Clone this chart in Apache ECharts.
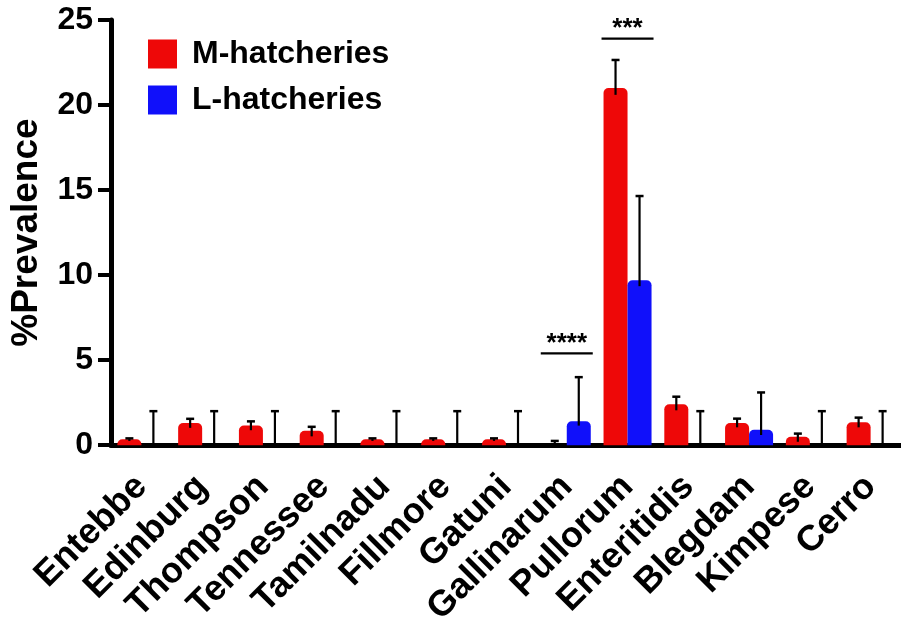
<!DOCTYPE html>
<html>
<head>
<meta charset="utf-8">
<script src="https://cdn.jsdelivr.net/npm/echarts@6/dist/echarts.min.js"></script>
<style>
html,body{margin:0;padding:0;background:#fff;}
#chart{width:901px;height:629px;}
</style>
</head>
<body>
<div id="chart"></div>
<script>
const categories = ['Entebbe','Edinburg','Thompson','Tennessee','Tamilnadu','Fillmore','Gatuni','Gallinarum','Pullorum','Enteritidis','Blegdam','Kimpese','Cerro'];
const mValues = [0.35, 1.3, 1.15, 0.85, 0.35, 0.35, 0.35, 0, 21.0, 2.4, 1.3, 0.5, 1.35];
const mUpper  = [0.4, 1.55, 1.4, 1.08, 0.4, 0.4, 0.4, 0.25, 22.65, 2.85, 1.56, 0.68, 1.62];
const mLower  = [0.25, 1.02, 0.88, 0.52, 0.25, 0.25, 0.25, 0, 20.6, 2.05, 1.05, 0.2, 1.05];
const lValues = [0, 0, 0, 0, 0, 0, 0, 1.4, 9.7, 0, 0.9, 0, 0];
const lUpper  = [2, 2, 2, 2, 2, 2, 2, 4.0, 14.65, 2, 3.1, 2, 2];
const lLower  = [0, 0, 0, 0, 0, 0, 0, 1.15, 9.35, 0, 0.6, 0, 0];
const sigCategories = ['Gallinarum', 'Pullorum'];
const sigY = [5.4, 23.9];
const sigLabels = ['****', '***'];
const yTicks = [0, 5, 10, 15, 20, 25];

const FONT = "'Liberation Sans', Arial, Helvetica, sans-serif";
const BAR_W = 24;

function errData(lower, upper) {
  return categories.map((c, i) => [i, lower[i], upper[i]]);
}
function errRender(offset) {
  return function (params, api) {
    const i = api.value(0);
    const lo = api.coord([i, api.value(1)]);
    const hi = api.coord([i, api.value(2)]);
    const x = lo[0] + offset;
    return {
      type: 'group',
      children: [
        { type: 'line', shape: { x1: x, y1: lo[1], x2: x, y2: hi[1] },
          style: { stroke: '#000', lineWidth: 2.2 } },
        { type: 'line', shape: { x1: x - 4, y1: hi[1], x2: x + 4, y2: hi[1] },
          style: { stroke: '#000', lineWidth: 2.5 } }
      ]
    };
  };
}

const chart = echarts.init(document.getElementById('chart'), null, { renderer: 'canvas' });
chart.setOption({
  animation: false,
  backgroundColor: '#fff',
  grid: { left: 107, top: 20, width: 806, height: 426, containLabel: false },
  legend: {
    orient: 'vertical', left: 143, top: 33,
    itemWidth: 29, itemHeight: 29, itemGap: 14,
    icon: 'rect', selectedMode: false,
    textStyle: { fontFamily: FONT, fontWeight: 'bold', fontSize: 32, color: '#000', padding: [0, 0, 0, 10] },
    data: ['M-hatcheries', 'L-hatcheries']
  },
  xAxis: {
    type: 'category', data: categories, boundaryGap: true,
    axisLine: { lineStyle: { color: '#000', width: 5 } },
    axisTick: { alignWithLabel: true, length: 14, lineStyle: { color: '#000', width: 5 } },
    axisLabel: { rotate: 45, margin: 36, interval: 0, color: '#000',
      fontFamily: FONT, fontWeight: 'bold', fontSize: 36 }
  },
  yAxis: {
    type: 'value', min: 0, max: 25, interval: 5,
    name: '%Prevalence', nameLocation: 'middle', nameGap: 66,
    nameTextStyle: { fontFamily: FONT, fontWeight: 'bold', fontSize: 37, color: '#000' },
    splitLine: { show: false },
    axisLine: { show: true, lineStyle: { color: '#000', width: 5 } },
    axisTick: { show: true, length: 13, lineStyle: { color: '#000', width: 4 } },
    axisLabel: { margin: 18, color: '#000', fontFamily: FONT, fontWeight: 'bold', fontSize: 32,
      formatter: v => yTicks.includes(v) ? String(v) : '' }
  },
  series: [
    { name: 'M-hatcheries', type: 'bar', data: mValues, barWidth: BAR_W, barGap: '0%',
      itemStyle: { color: '#ee0808', borderRadius: [5, 5, 0, 0] }, z: 2 },
    { name: 'L-hatcheries', type: 'bar', data: lValues, barWidth: BAR_W, barGap: '0%',
      itemStyle: { color: '#1010fa', borderRadius: [5, 5, 0, 0] }, z: 2 },
    { type: 'custom', name: 'errM', data: errData(mLower, mUpper), renderItem: errRender(-BAR_W / 2),
      encode: { x: 0, y: [1, 2] }, z: 5, silent: true },
    { type: 'custom', name: 'errL', data: errData(lLower, lUpper), renderItem: errRender(BAR_W / 2),
      encode: { x: 0, y: [1, 2] }, z: 5, silent: true },
    { type: 'custom', name: 'sig',
      data: sigCategories.map((c, k) => [categories.indexOf(c), sigY[k], sigLabels[k]]),
      encode: { x: 0, y: 1 }, z: 6, silent: true,
      renderItem: function (params, api) {
        const p = api.coord([api.value(0), api.value(1)]);
        const txt = sigLabels[params.dataIndex];
        return {
          type: 'group',
          children: [
            { type: 'line', shape: { x1: p[0] - 26, y1: p[1], x2: p[0] + 26, y2: p[1] },
              style: { stroke: '#000', lineWidth: 2.2 } },
            { type: 'text', x: p[0], y: p[1] - 10,
              style: { text: txt, fontFamily: FONT, fontWeight: 'bold', fontSize: 26,
                fill: '#000', align: 'center', verticalAlign: 'middle' } }
          ]
        };
      }
    }
  ]
});
</script>
</body>
</html>
